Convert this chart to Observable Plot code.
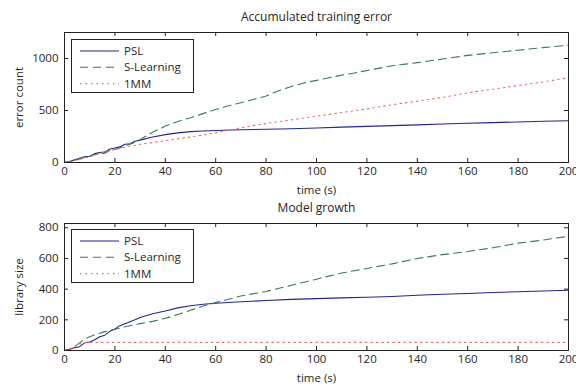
<!DOCTYPE html>
<html><head><meta charset="utf-8">
<script src="https://cdn.jsdelivr.net/npm/d3@7"></script>
<script src="https://cdn.jsdelivr.net/npm/@observablehq/plot@0.6"></script>
<style>
body{margin:0;background:#fff;}
#wrap{position:relative;width:576px;height:385px;font-family:"Open Sans",sans-serif;color:#262626;background:#fff;}
.plot{position:absolute;left:0;}
.plot text{font-weight:400;}
.legend{position:absolute;}
</style></head><body><div id="wrap"></div>
<script>
// ---------- labels ----------
const titles = ["Accumulated training error", "Model growth"];
const xLabel = "time (s)";
const yLabels = ["error count", "library size"];
const seriesNames = ["PSL", "S-Learning", "1MM"];
const seriesColors = ["#24248f", "#3a7a55", "#f26464"];
const seriesDash = [null, "8,5", "1.5,4"];
const xTicks = [0, 20, 40, 60, 80, 100, 120, 140, 160, 180, 200];
const errorYTicks = [0, 500, 1000];
const growthYTicks = [0, 200, 400, 600, 800];

// ---------- accumulated training error ----------
const errPslT = [0,2,4,6,8,10,12,14,16,18,20,22,24,26,28,30,35,40,45,50,55,60,70,80,90,100,110,120,130,140,150,160,170,180,190,200];
const errPsl  = [0,10,25,40,55,60,85,95,100,130,140,150,175,180,205,215,245,268,285,297,303,308,315,320,325,332,340,347,355,362,370,377,383,390,396,402];
const errSlT = [0,2,4,6,8,10,12,14,16,18,20,22,24,26,28,30,35,40,45,50,55,60,65,70,75,80,85,90,95,100,105,110,115,120,130,140,150,160,170,180,190,200];
const errSl  = [0,8,20,35,50,60,75,85,90,115,125,140,160,175,195,220,290,350,395,430,470,510,545,575,605,640,690,730,765,790,815,840,860,885,930,960,995,1030,1055,1080,1105,1128];
const err1mmT = [0,5,10,15,20,25,30,35,40,45,50,60,70,80,90,100,110,120,130,140,150,160,170,180,190,200];
const err1mm  = [0,25,55,95,125,152,175,192,210,228,245,285,335,375,410,445,480,515,555,590,625,670,705,740,775,815];

// ---------- model growth ----------
const grPslT = [0,2,4,6,8,10,12,14,16,18,20,22,24,26,28,30,35,40,45,50,55,60,70,80,90,100,110,120,130,140,150,160,170,180,190,200];
const grPsl  = [0,8,18,25,50,55,70,90,100,125,140,162,175,188,200,215,240,258,278,292,302,308,318,326,333,338,343,347,352,360,367,372,378,383,388,393];
const grSlT = [0,2,4,6,8,10,12,15,18,20,25,30,35,40,45,50,55,60,70,80,90,100,110,120,130,140,150,160,170,180,190,200];
const grSl  = [0,6,25,50,75,90,103,118,131,138,158,175,190,210,235,262,290,312,355,385,425,465,505,535,565,600,625,645,670,700,720,745];
const gr1mmT = [0,2,4,6,8,10,200];
const gr1mm  = [0,10,25,42,52,53,53];

function rows(ts, vs) { return ts.map((t, i) => ({t, v: vs[i]})); }

const errSeries = [rows(errPslT, errPsl), rows(errSlT, errSl), rows(err1mmT, err1mm)];
const grSeries = [rows(grPslT, grPsl), rows(grSlT, grSl), rows(gr1mmT, gr1mm)];

const W = 576, ML = 64, MR = 8;
const wrap = document.getElementById("wrap");

function panel({series, yDomain, yTicks, yLabel, title, top, height, mt, mb, legendTop}) {
  const fw = W - ML - MR, fh = height - mt - mb;
  const marks = [];
  series.forEach((d, i) => {
    marks.push(Plot.line(d, {x: "t", y: "v", stroke: seriesColors[i], strokeWidth: 1.1,
      strokeDasharray: seriesDash[i] || undefined}));
  });
  marks.push(
    Plot.ruleX(xTicks, {x: d => d, insetTop: fh - 4, stroke: "#222"}),
    Plot.ruleX(xTicks, {x: d => d, insetBottom: fh - 4, stroke: "#222"}),
    Plot.ruleY(yTicks, {y: d => d, insetRight: fw - 4, stroke: "#222"}),
    Plot.ruleY(yTicks, {y: d => d, insetLeft: fw - 4, stroke: "#222"}),
    Plot.frame({stroke: "#222"}),
    Plot.axisX({ticks: xTicks, tickSize: 0, tickPadding: 4, tickFormat: d => String(d), label: xLabel, labelAnchor: "center", labelArrow: "none", labelOffset: 31, fontWeight: 400}),
    Plot.axisY({ticks: yTicks, tickSize: 0, tickPadding: 6, tickFormat: d => String(d), label: yLabel, labelAnchor: "center", labelArrow: "none", labelOffset: 50, fontWeight: 400}),
    Plot.text([title], {frameAnchor: "top", dy: -15, lineAnchor: "middle", fontSize: 12, fontWeight: 400})
  );
  const p = Plot.plot({
    width: W, height, marginLeft: ML, marginRight: MR, marginTop: mt, marginBottom: mb,
    x: {domain: [0, 200]},
    y: {domain: yDomain},
    style: {fontFamily: '"Open Sans", sans-serif', fontSize: "11.5px", color: "#262626", background: "transparent", overflow: "visible"},
    marks
  });
  p.classList.add("plot");
  p.style.top = top + "px";
  wrap.appendChild(p);

  // legend box
  const lg = d3.select(wrap).append("svg").attr("class", "legend")
    .style("left", "71px").style("top", legendTop + "px")
    .attr("width", 123).attr("height", 54);
  lg.append("rect").attr("x", 0.5).attr("y", 0.5).attr("width", 122).attr("height", 53)
    .attr("fill", "#fff").attr("stroke", "#222");
  seriesNames.forEach((name, i) => {
    const cy = 12 + i * 16.3;
    lg.append("line").attr("x1", 9).attr("x2", 48).attr("y1", cy).attr("y2", cy)
      .attr("stroke", seriesColors[i]).attr("stroke-width", 1.1)
      .attr("stroke-dasharray", seriesDash[i]);
    lg.append("text").attr("x", 53).attr("y", cy).attr("dy", "0.35em")
      .attr("font-family", '"Open Sans", sans-serif').attr("font-size", 11.5)
      .attr("fill", "#262626").text(name);
  });
}

panel({series: errSeries, yDomain: [0, 1250], yTicks: errorYTicks, yLabel: yLabels[0], title: titles[0],
  top: 0, height: 192, mt: 32, mb: 30, legendTop: 39});
panel({series: grSeries, yDomain: [0, 828], yTicks: growthYTicks, yLabel: yLabels[1], title: titles[1],
  top: 192, height: 193, mt: 31, mb: 35, legendTop: 229});
</script></body></html>
